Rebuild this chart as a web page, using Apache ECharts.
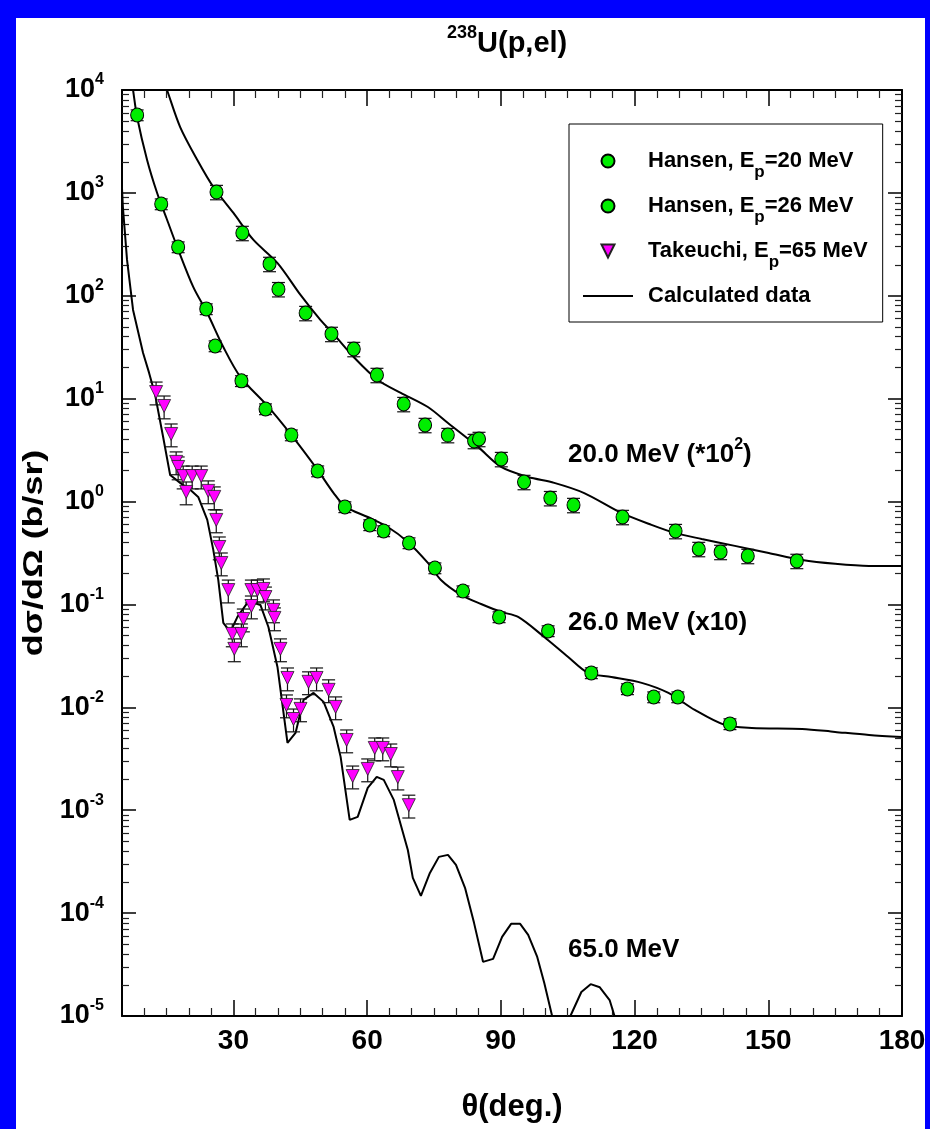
<!DOCTYPE html>
<html>
<head>
<meta charset="utf-8">
<script src="https://cdn.jsdelivr.net/npm/echarts@6/dist/echarts.min.js"></script>
<style>
  html, body { margin: 0; padding: 0; background: #fff; overflow: hidden; width: 930px; height: 1129px; }
  #chart { position: absolute; left: 0; top: 0; width: 930px; height: 1129px; }
  .frame { position: absolute; background: #0000ff; z-index: 5; }
</style>
</head>
<body>
<div id="chart"></div>
<div class="frame" style="left:0;top:0;width:930px;height:18px"></div>
<div class="frame" style="left:0;top:0;width:16px;height:1129px"></div>
<div class="frame" style="left:925px;top:0;width:5px;height:1129px"></div>
<script>
// ---- Measured data: Hansen, Ep = 20 MeV (plotted x 10^2) ----
const hansen20Theta = [26.2, 32.0, 38.1, 40.1, 46.2, 52.0, 57.0, 62.2, 68.2, 73.0, 78.1, 84.0, 85.1,
  90.1, 95.2, 101.1, 106.3, 117.3, 129.2, 134.4, 139.3, 145.4, 156.4];
const hansen20Sigma = [1020, 408, 204, 116, 68, 42.6, 30.4, 17.0, 8.87, 5.55, 4.43, 3.88, 4.06,
  2.59, 1.55, 1.08, 0.926, 0.708, 0.517, 0.346, 0.324, 0.296, 0.265];
const hansen20RelErr = 0.16;

// ---- Measured data: Hansen, Ep = 26 MeV (plotted x 10) ----
const hansen26Theta = [8.4, 13.8, 17.6, 23.9, 25.9, 31.8, 37.2, 43.0, 48.9, 55.0, 60.6, 63.7, 69.4,
  75.2, 81.5, 89.6, 100.6, 110.3, 118.4, 124.3, 129.7, 141.4];
const hansen26Sigma = [5715, 780, 298, 74.5, 32.5, 14.9, 7.94, 4.43, 1.98, 0.887, 0.593, 0.518, 0.396,
  0.226, 0.135, 0.0756, 0.0553, 0.0216, 0.0151, 0.0126, 0.0126, 0.0069];
const hansen26RelErr = 0.12;

// ---- Measured data: Takeuchi, Ep = 65 MeV ----
const takeuchiTheta = [12.65, 14.45, 16.03, 17.15, 17.6, 18.73, 19.4, 20.75, 22.78, 24.35, 25.7, 26.15,
  26.83, 27.28, 28.85, 29.75, 30.2, 31.78, 32.23, 34.03, 34.03, 35.38, 36.73, 37.18, 38.98, 39.2,
  40.55, 42.13, 41.9, 43.48, 45.05, 46.85, 48.65, 51.35, 52.93, 55.4, 56.75, 60.13, 61.7, 63.5,
  65.3, 66.88, 69.35];
const takeuchiSigma = [11.6, 8.49, 4.54, 2.43, 2.17, 1.77, 1.24, 1.77, 1.77, 1.27, 1.11, 0.663,
  0.362, 0.253, 0.138, 0.0517, 0.037, 0.0517, 0.0722, 0.0966, 0.138, 0.138, 0.1415, 0.118, 0.0885, 0.074,
  0.037, 0.0193, 0.01055, 0.0077, 0.00966, 0.0177, 0.0193, 0.0148, 0.0101, 0.00482, 0.00215, 0.00252, 0.00403, 0.00403,
  0.00352, 0.0021, 0.00112];
const takeuchiRelErr = 0.25;

// ---- Calculated curves ----
const calc20Theta = [14.5, 15.1, 18.05, 21.9, 25.5, 30.0, 34.5, 39.9, 45.05, 49.55, 52.25, 56.98, 62.38,
  67.55, 73.63, 78.13, 84.88, 90.06, 96.13, 101.98, 108.7, 117.06, 123.8, 129.0, 135.06, 142.5,
  150.1, 157.6, 165.0, 172.6, 180];
const calc20Sigma = [11800, 10000, 4365, 2089, 1140, 638, 349, 208, 102, 58, 43.5, 25.4, 15.2,
  11.4, 8.3, 5.8, 3.4, 2.17, 1.73, 1.52, 1.21, 0.775, 0.593, 0.496, 0.433, 0.371,
  0.316, 0.27, 0.248, 0.237, 0.237];

const calc26Theta = [7.0, 7.48, 8.38, 10.63, 12.88, 15.13, 17.38, 20.98, 24.13, 27.73, 31.55, 37.63,
  42.8, 48.88, 52.48, 55.18, 60.13, 64.63, 69.13, 73.63, 76.56, 81.06, 85.56, 90.06, 93.88, 99.73,
  105.1, 109.6, 114.8, 121.6, 127.6, 133.5, 140.2, 146.3, 157.6, 165.0, 172.6, 180];
const calc26Sigma = [13800, 10000, 5470, 2089, 998, 545, 298, 122, 68, 31.8, 16.3, 8.5,
  4.54, 2.03, 1.21, 0.887, 0.708, 0.566, 0.405, 0.253, 0.173, 0.124, 0.101, 0.0846, 0.0756, 0.0483,
  0.0309, 0.0216, 0.0197, 0.0173, 0.0138, 0.00944, 0.00675, 0.00631, 0.00617, 0.00577, 0.00539, 0.00515];

const calc65Theta = [5.0, 5.2, 6.13, 7.48, 9.73, 11.08, 12.43, 14.23, 15.8, 18.05, 20.3, 22.1, 24.13,
  25.48, 26.6, 27.73, 29.3, 30.9, 33.13, 34.5, 36.05, 37.85, 39.88, 42.13, 43.93, 45.73, 47.98,
  50.23, 52.48, 54.05, 56.08, 57.88, 60.13, 62.15, 63.73, 65.98, 69.13, 70.25, 72.06, 74.08, 76.1,
  78.13, 79.93, 81.96, 83.98, 86.0, 88.26, 90.28, 92.3, 94.33, 96.13, 98.16, 99.73, 101.5, 103.3,
  105.6, 108.06, 110.15, 112.2, 114.4, 115.5, 117.0];
const calc65Sigma = [1100, 729, 223, 72.8, 27.8, 17.8, 10.9, 4.24, 1.81, 1.52, 1.30, 1.11, 0.663,
  0.339, 0.173, 0.0661, 0.054, 0.0756, 0.1035, 0.1035, 0.0989, 0.0604, 0.0247, 0.00451, 0.00564, 0.0118, 0.0138,
  0.0113, 0.00645, 0.0033, 0.000805, 0.000861, 0.00165, 0.00211, 0.00197, 0.00126, 0.000411, 0.00022, 0.000147, 0.000246, 0.000352,
  0.000368, 0.000294, 0.000176, 8.04e-5, 3.36e-5, 3.59e-5, 5.87e-5, 7.86e-5, 7.86e-5, 6.14e-5, 3.75e-5, 2.1e-5, 1.0e-5, 4.0e-6,
  1.0e-5, 1.71e-5, 2.04e-5, 1.9e-5, 1.43e-5, 1.0e-5, 5.0e-6];

// ---- Axis ticks ----
const xMajorTicks = [30, 60, 90, 120, 150, 180];
const xMinorTicks = [10, 15, 20, 25, 35, 40, 45, 50, 55, 65, 70, 75, 80, 85, 95, 100, 105, 110, 115,
  125, 130, 135, 140, 145, 155, 160, 165, 170, 175];
const yDecades = [1e-5, 1e-4, 1e-3, 1e-2, 1e-1, 1e0, 1e1, 1e2, 1e3, 1e4];
const yMinorMultipliers = [2, 3, 4, 5, 6, 7, 8, 9];
const yMinorTicks = [];
yDecades.slice(0, -1).forEach(d => yMinorMultipliers.forEach(m => yMinorTicks.push(m * d)));

const FONT = '"Liberation Sans", Arial, Helvetica, sans-serif';

const pairs = (xs, ys) => xs.map((x, i) => [x, ys[i]]);
const errRows = (xs, ys, e) => xs.map((x, i) => [x, ys[i] * (1 - e), ys[i] * (1 + e)]);

// Vertical error bar with caps, placed through the cartesian coordinate system
function errorBarItem(params, api) {
  const x = api.value(0);
  const lo = api.coord([x, api.value(1)]);
  const hi = api.coord([x, api.value(2)]);
  const hw = 6.5;
  const st = { stroke: '#111', lineWidth: 1.2 };
  return {
    type: 'group',
    children: [
      { type: 'line', shape: { x1: lo[0], y1: lo[1], x2: hi[0], y2: hi[1] }, style: st },
      { type: 'line', shape: { x1: hi[0] - hw, y1: hi[1], x2: hi[0] + hw, y2: hi[1] }, style: st },
      { type: 'line', shape: { x1: lo[0] - hw, y1: lo[1], x2: lo[0] + hw, y2: lo[1] }, style: st }
    ]
  };
}

function errorSeries(xs, ys, e) {
  return {
    type: 'custom', xAxisIndex: 0, yAxisIndex: 0, z: 3, silent: true,
    renderItem: errorBarItem,
    encode: { x: 0, y: [1, 2] },
    data: errRows(xs, ys, e)
  };
}

const supLabel = v => '{b|10}{s|' + Math.round(Math.log10(v)) + '}';

function legendText(name) {
  const k = name.indexOf('Ep=');
  if (k < 0) return '{g| }{t|' + name + '}';
  return '{g| }{t|' + name.slice(0, k) + 'E}{sub|p}{t|' + name.slice(k + 2) + '}';
}

const axisLine = { show: true, onZero: false, lineStyle: { color: '#000', width: 2 } };
const hidden = { show: false };
const majorTickStyle = { color: '#000', width: 1.5 };
const minorTickStyle = { color: '#222', width: 1.2 };

const xBase = { type: 'value', min: 5, max: 180, gridIndex: 0, splitLine: hidden };
const yBase = { type: 'log', logBase: 10, min: 1e-5, max: 1e4, gridIndex: 0, splitLine: hidden };

const chart = echarts.init(document.getElementById('chart'), null, { renderer: 'canvas', width: 930, height: 1129 });

chart.setOption({
  backgroundColor: '#fff',
  animation: false,
  textStyle: { fontFamily: FONT },
  title: {
    text: '{s|238}{m|U(p,el)}',
    left: 447, top: 24, padding: 0,
    textStyle: {
      rich: {
        s: { fontFamily: FONT, fontWeight: 'bold', fontSize: 18, lineHeight: 10, verticalAlign: 'top', color: '#000' },
        m: { fontFamily: FONT, fontWeight: 'bold', fontSize: 29, lineHeight: 40, verticalAlign: 'middle', color: '#000' }
      }
    }
  },
  grid: { left: 122, right: 28, top: 90, bottom: 113, containLabel: false },
  legend: {
    orient: 'vertical', left: 569, top: 124,
    padding: [26, 15, 15, 14],
    itemWidth: 50, itemHeight: 13, itemGap: 14,
    symbolKeepAspect: true,
    borderColor: '#000', borderWidth: 1, backgroundColor: '#fff',
    data: [
      { name: 'Hansen, Ep=20 MeV', icon: 'circle' },
      { name: 'Hansen, Ep=26 MeV', icon: 'circle' },
      { name: 'Takeuchi, Ep=65 MeV', icon: 'path://M0,0L12,0L6,12Z' },
      { name: 'Calculated data', icon: 'path://M0,0L50,0L50,2L0,2Z' }
    ],
    formatter: legendText,
    selectedMode: false,
    textStyle: {
      color: '#000',
      rich: {
        g: { width: 10, fontSize: 10 },
        t: { fontFamily: FONT, fontWeight: 'bold', fontSize: 22, lineHeight: 40, verticalAlign: 'middle', color: '#000' },
        sub: { fontFamily: FONT, fontWeight: 'bold', fontSize: 17, lineHeight: 14, verticalAlign: 'bottom', color: '#000' }
      }
    }
  },
  xAxis: [
    Object.assign({}, xBase, {
      position: 'bottom', axisLine,
      axisTick: { show: true, inside: true, length: 16, customValues: xMajorTicks, lineStyle: majorTickStyle },
      axisLabel: { customValues: xMajorTicks, margin: 11, color: '#000', fontFamily: FONT, fontWeight: 'bold', fontSize: 28 },
      name: 'θ(deg.)', nameLocation: 'middle', nameGap: 76,
      nameTextStyle: { color: '#000', fontFamily: FONT, fontWeight: 'bold', fontSize: 31 }
    }),
    Object.assign({}, xBase, {
      position: 'top', axisLine,
      axisTick: { show: true, inside: true, length: 16, customValues: xMajorTicks, lineStyle: majorTickStyle },
      axisLabel: hidden
    }),
    Object.assign({}, xBase, {
      position: 'bottom', axisLine: hidden,
      axisTick: { show: true, inside: true, length: 8, customValues: xMinorTicks, lineStyle: minorTickStyle },
      axisLabel: hidden
    }),
    Object.assign({}, xBase, {
      position: 'top', axisLine: hidden,
      axisTick: { show: true, inside: true, length: 8, customValues: xMinorTicks, lineStyle: minorTickStyle },
      axisLabel: hidden
    })
  ],
  yAxis: [
    Object.assign({}, yBase, {
      position: 'left', axisLine,
      axisTick: { show: true, inside: true, length: 14, customValues: yDecades, lineStyle: majorTickStyle },
      axisLabel: {
        customValues: yDecades, margin: 18, formatter: supLabel,
        rich: {
          b: { fontFamily: FONT, fontWeight: 'bold', fontSize: 27, lineHeight: 36, verticalAlign: 'middle', color: '#000' },
          s: { fontFamily: FONT, fontWeight: 'bold', fontSize: 16, lineHeight: 27, verticalAlign: 'top', color: '#000' }
        }
      }
    }),
    Object.assign({}, yBase, {
      position: 'right', axisLine,
      axisTick: { show: true, inside: true, length: 14, customValues: yDecades, lineStyle: majorTickStyle },
      axisLabel: hidden
    }),
    Object.assign({}, yBase, {
      position: 'left', axisLine: hidden,
      axisTick: { show: true, inside: true, length: 7, customValues: yMinorTicks, lineStyle: minorTickStyle },
      axisLabel: hidden
    }),
    Object.assign({}, yBase, {
      position: 'right', axisLine: hidden,
      axisTick: { show: true, inside: true, length: 7, customValues: yMinorTicks, lineStyle: minorTickStyle },
      axisLabel: hidden
    })
  ],
  graphic: [
    {
      type: 'text', x: 34, y: 553, rotation: Math.PI / 2, scaleX: 1.28, z: 10,
      style: {
        text: 'dσ/dΩ (b/sr)', fill: '#000',
        font: 'bold 28px ' + FONT,
        align: 'center', verticalAlign: 'middle', textAlign: 'center', textVerticalAlign: 'middle'
      }
    },
    {
      type: 'text', x: 568, y: 455, z: 10,
      style: {
        text: '{t|20.0 MeV (*10}{s|2}{t|)}', fill: '#000',
        verticalAlign: 'middle', textVerticalAlign: 'middle',
        rich: {
          t: { fontFamily: FONT, fontWeight: 'bold', fontSize: 26, lineHeight: 36, verticalAlign: 'middle', fill: '#000' },
          s: { fontFamily: FONT, fontWeight: 'bold', fontSize: 16, lineHeight: 16, verticalAlign: 'top', fill: '#000' }
        }
      }
    },
    {
      type: 'text', x: 568, y: 623, z: 10,
      style: {
        text: '26.0 MeV (x10)', fill: '#000', font: 'bold 26px ' + FONT,
        verticalAlign: 'middle', textVerticalAlign: 'middle'
      }
    },
    {
      type: 'text', x: 568, y: 950, z: 10,
      style: {
        text: '65.0 MeV', fill: '#000', font: 'bold 26px ' + FONT,
        verticalAlign: 'middle', textVerticalAlign: 'middle'
      }
    }
  ],
  series: [
    {
      name: 'Calculated data', type: 'line', xAxisIndex: 0, yAxisIndex: 0, z: 2,
      data: pairs(calc20Theta, calc20Sigma), symbol: 'none', smooth: 0.3, clip: true,
      lineStyle: { color: '#000', width: 2 }, itemStyle: { color: '#000' }
    },
    {
      name: 'Calculated data', type: 'line', xAxisIndex: 0, yAxisIndex: 0, z: 2,
      data: pairs(calc26Theta, calc26Sigma), symbol: 'none', smooth: 0.3, clip: true,
      lineStyle: { color: '#000', width: 2 }, itemStyle: { color: '#000' }
    },
    {
      name: 'Calculated data', type: 'line', xAxisIndex: 0, yAxisIndex: 0, z: 2,
      data: pairs(calc65Theta, calc65Sigma), symbol: 'none', smooth: false, clip: true,
      lineStyle: { color: '#000', width: 2 }, itemStyle: { color: '#000' }
    },
    errorSeries(hansen20Theta, hansen20Sigma, hansen20RelErr),
    errorSeries(hansen26Theta, hansen26Sigma, hansen26RelErr),
    errorSeries(takeuchiTheta, takeuchiSigma, takeuchiRelErr),
    {
      name: 'Hansen, Ep=20 MeV', type: 'scatter', xAxisIndex: 0, yAxisIndex: 0, z: 4,
      data: pairs(hansen20Theta, hansen20Sigma), symbol: 'circle', symbolSize: [13, 14],
      itemStyle: { color: '#00ee00', borderColor: '#000', borderWidth: 1, opacity: 1 }
    },
    {
      name: 'Hansen, Ep=26 MeV', type: 'scatter', xAxisIndex: 0, yAxisIndex: 0, z: 4,
      data: pairs(hansen26Theta, hansen26Sigma), symbol: 'circle', symbolSize: [13, 14],
      itemStyle: { color: '#00ee00', borderColor: '#000', borderWidth: 1, opacity: 1 }
    },
    {
      name: 'Takeuchi, Ep=65 MeV', type: 'scatter', xAxisIndex: 0, yAxisIndex: 0, z: 4,
      data: pairs(takeuchiTheta, takeuchiSigma), symbol: 'triangle', symbolRotate: 180, symbolSize: 13,
      itemStyle: { color: '#ff00ff', borderColor: '#222', borderWidth: 0.8, opacity: 1 }
    }
  ]
});
</script>
</body>
</html>
